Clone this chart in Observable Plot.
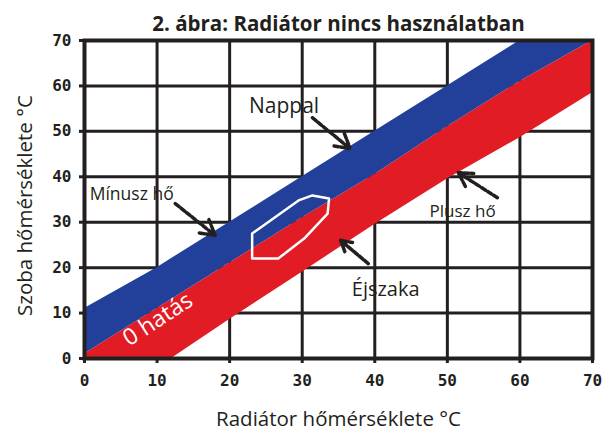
<!DOCTYPE html>
<html>
<head>
<meta charset="utf-8">
<script src="https://cdn.jsdelivr.net/npm/d3@7"></script>
<script src="https://cdn.jsdelivr.net/npm/@observablehq/plot@0.6"></script>
<style>
  html, body { margin: 0; padding: 0; background: #fff; }
  #chart svg { display: block; }
</style>
</head>
<body>
<div id="chart"></div>
<script>
// ---- data ----
const titleText = "2. ábra: Radiátor nincs használatban";
const xLabel = "Radiátor hőmérséklete °C";
const yLabel = "Szoba hőmérséklete °C";
const ticks = [0, 10, 20, 30, 40, 50, 60, 70];

// band boundaries (room temperature) at radiator temperatures xs
const xs     = [0, 10, 12, 20, 30, 40, 50, 60, 70];
const upper  = [11, 20, 22, 30, 40, 50, 60, 70, 70];
const middle = [1, 11, 13, 21, 31, 40.5, 51, 61, 70];
const lower  = [0, 0, 0, 8.6, 19, 29.5, 39.5, 48.6, 58.5];

// white outline loop
const loopX = [23.1, 26.7, 30.4, 33.5, 33.7, 31.4, 29.5, 23.1];
const loopY = [22.0, 22.0, 26.6, 31.9, 35.2, 35.9, 34.8, 27.5];

// annotations
const labelText = ["Nappal", "Mínusz hő", "Éjszaka", "Plusz hő"];
const labelX    = [27.5, 6.5, 41.5, 52.1];
const labelY    = [55.5, 36.1, 15.2, 32.4];
const labelSize = [21, 17.5, 20, 17];

const arrowX1 = [31.4, 12.5, 39.1, 56.9];
const arrowY1 = [53.0, 34.1, 20.9, 35.4];
const arrowX2 = [36.6, 18.0, 35.3, 51.5];
const arrowY2 = [46.2, 27.1, 26.0, 40.9];

const zeroText = "0 hatás";
const zeroX = [10.1];
const zeroY = [8.6];

// ---- build tables ----
const bands = xs.map((x, i) => ({x, lo: lower[i], mid: middle[i], hi: upper[i]}));
const loop = loopX.map((x, i) => ({x, y: loopY[i]}));
const labels = labelText.map((t, i) => ({t, x: labelX[i], y: labelY[i], s: labelSize[i]}));
const arrows = arrowX1.map((x1, i) => ({x1, y1: arrowY1[i], x2: arrowX2[i], y2: arrowY2[i]}));

const BLUE = "#22409a";
const RED = "#e21c24";
const INK = "#231f20";

const chart = Plot.plot({
  width: 610,
  height: 434,
  marginLeft: 84,
  marginRight: 18,
  marginTop: 40,
  marginBottom: 76,
  x: {domain: [0, 70], ticks: ticks},
  y: {domain: [0, 70], ticks: ticks},
  style: {fontFamily: "'Open Sans', sans-serif", color: INK, background: "#fff"},
  marks: [
    Plot.gridX(ticks, {stroke: INK, strokeOpacity: 1, strokeWidth: 3}),
    Plot.gridY(ticks, {stroke: INK, strokeOpacity: 1, strokeWidth: 3}),
    Plot.areaY(bands, {x: "x", y1: "lo", y2: "mid", fill: RED, clip: true}),
    Plot.areaY(bands, {x: "x", y1: "mid", y2: "hi", fill: BLUE, clip: true}),
    Plot.line(loop, {x: "x", y: "y", stroke: "#fff", strokeWidth: 2.5, curve: "linear-closed", strokeLinejoin: "round"}),
    Plot.arrow(arrows, {x1: "x1", y1: "y1", x2: "x2", y2: "y2", stroke: INK, strokeWidth: 3.5, headLength: 11, strokeDasharray: "5,2"}),
    Plot.text(labels, {x: "x", y: "y", text: "t", fontSize: "s", fill: INK, fontFamily: "'Open Sans', sans-serif"}),
    Plot.text([zeroText], {x: zeroX, y: zeroY, text: d => d, rotate: -33, fill: "#fff", fontSize: 23, fontFamily: "'Open Sans', sans-serif"}),
    Plot.frame({stroke: INK, strokeWidth: 4}),
    Plot.axisX(ticks, {tickSize: 5, strokeWidth: 3, tickPadding: 11, fontSize: 16, fontWeight: "bold", fontFamily: "'DejaVu Sans Mono', monospace", label: null}),
    Plot.axisY(ticks, {tickSize: 5, strokeWidth: 3, tickPadding: 8, fontSize: 16, fontWeight: "bold", fontFamily: "'DejaVu Sans Mono', monospace", label: null}),
    Plot.text([titleText], {frameAnchor: "top", dy: -10, lineAnchor: "bottom", text: d => d, fontSize: 20.5, fontWeight: "bold", fill: INK}),
    Plot.text([xLabel], {frameAnchor: "bottom", dy: 61, lineAnchor: "middle", text: d => d, fontSize: 20.5, fill: INK}),
    Plot.text([yLabel], {frameAnchor: "left", dx: -59, dy: 6, rotate: -90, textAnchor: "middle", lineAnchor: "middle", text: d => d, fontSize: 20.5, fill: INK})
  ]
});
document.getElementById("chart").appendChild(chart);
</script>
</body>
</html>
